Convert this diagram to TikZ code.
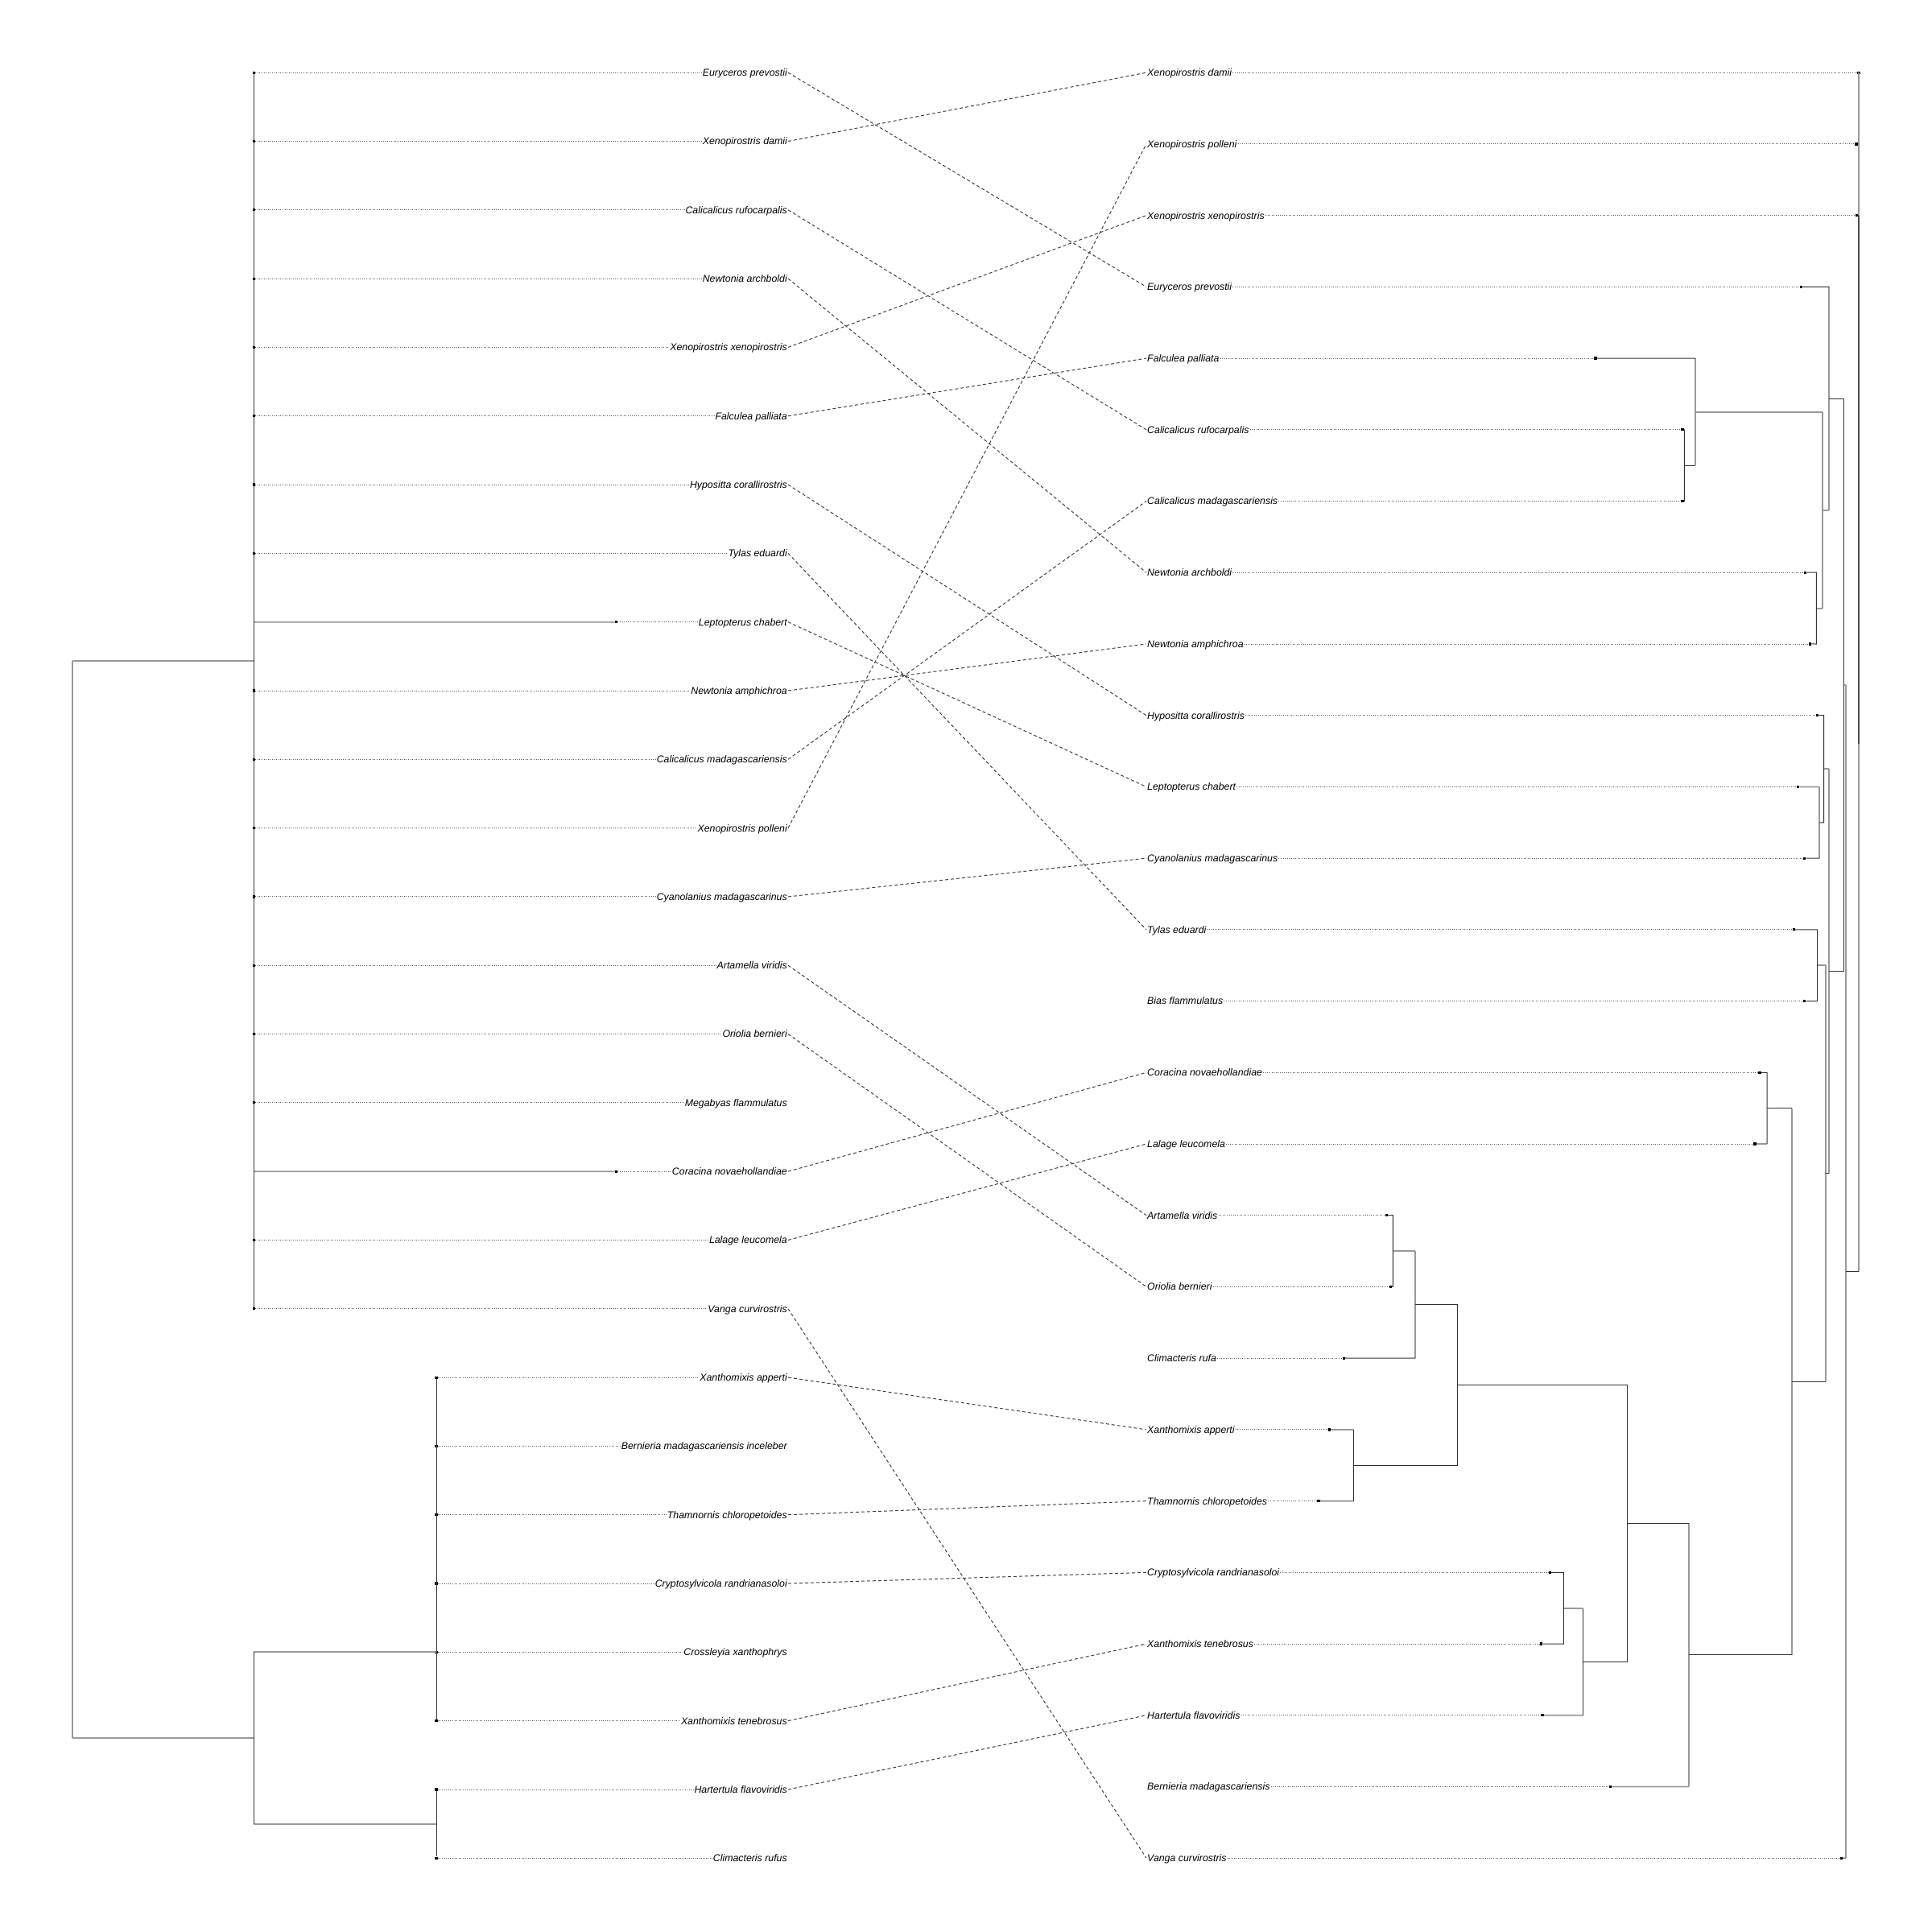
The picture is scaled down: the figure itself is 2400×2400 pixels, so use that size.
\documentclass[tikz,border=0pt]{standalone}
\usepackage{fontspec}
\setmainfont{Liberation Sans}
\begin{document}
\begin{tikzpicture}[x=1pt,y=-1pt,
  blk/.style={draw=black!80, line width=1pt},
  gry/.style={draw=black!40, line width=1.8pt},
  dk/.style={draw=black!70, line width=2.2pt},
  lead/.style={draw=black!65, line width=0.9pt, dash pattern=on 1pt off 1.6pt},
  conn/.style={draw=black!75, line width=1pt, dash pattern=on 4pt off 3pt},
  lab/.style={inner sep=1pt, font=\fontsize{12.35}{14}\selectfont\itshape, text height=8.8pt, text depth=0pt},
  tipdot/.style={fill=black, inner sep=0pt, minimum size=3.2pt, rectangle}]
\useasboundingbox (0,0) rectangle (2400,2400);

% ---------------- left labels and tips ----------------
\foreach \k/\nm/\tx in {
 1/{Euryceros prevostii}/315.3,
 2/{Xenopirostris damii}/315.3,
 3/{Calicalicus rufocarpalis}/315.3,
 4/{Newtonia archboldi}/315.3,
 5/{Xenopirostris xenopirostris}/315.3,
 6/{Falculea palliata}/315.3,
 7/{Hypositta corallirostris}/315.3,
 8/{Tylas eduardi}/315.3,
 9/{Leptopterus chabert}/765.5,
 10/{Newtonia amphichroa}/315.3,
 11/{Calicalicus madagascariensis}/315.3,
 12/{Xenopirostris polleni}/315.3,
 13/{Cyanolanius madagascarinus}/315.3,
 14/{Artamella viridis}/315.3,
 15/{Oriolia bernieri}/315.3,
 16/{Megabyas flammulatus}/315.3,
 17/{Coracina novaehollandiae}/765.5,
 18/{Lalage leucomela}/315.3,
 19/{Vanga curvirostris}/315.3,
 20/{Xanthomixis apperti}/542,
 21/{Bernieria madagascariensis inceleber}/542,
 22/{Thamnornis chloropetoides}/542,
 23/{Cryptosylvicola randrianasoloi}/542,
 24/{Crossleyia xanthophrys}/542,
 25/{Xanthomixis tenebrosus}/542,
 26/{Hartertula flavoviridis}/542,
 27/{Climacteris rufus}/542}{
  \node[lab, anchor=east] (L\k) at (979,{90.2+(\k-1)*85.31}) {\nm};
  \node[tipdot] (tL\k) at (\tx,{90.2+(\k-1)*85.31}) {};
  \draw[lead] (tL\k) -- (L\k.west);
}

% ---------------- right labels and tips ----------------
\foreach \k/\nm/\tx in {
 1/{Xenopirostris damii}/2309,
 2/{Xenopirostris polleni}/2306,
 3/{Xenopirostris xenopirostris}/2306.3,
 4/{Euryceros prevostii}/2237.7,
 5/{Falculea palliata}/1982,
 6/{Calicalicus rufocarpalis}/2090,
 7/{Calicalicus madagascariensis}/2090,
 8/{Newtonia archboldi}/2242.7,
 9/{Newtonia amphichroa}/2248.3,
 10/{Hypositta corallirostris}/2257.7,
 11/{Leptopterus chabert}/2233.7,
 12/{Cyanolanius madagascarinus}/2241.7,
 13/{Tylas eduardi}/2228.3,
 14/{Bias flammulatus}/2241.7,
 15/{Coracina novaehollandiae}/2186,
 16/{Lalage leucomela}/2180,
 17/{Artamella viridis}/1722.3,
 18/{Oriolia bernieri}/1727.3,
 19/{Climacteris rufa}/1669.3,
 20/{Xanthomixis apperti}/1651.3,
 21/{Thamnornis chloropetoides}/1638,
 22/{Cryptosylvicola randrianasoloi}/1925.3,
 23/{Xanthomixis tenebrosus}/1914.7,
 24/{Hartertula flavoviridis}/1916,
 25/{Bernieria madagascariensis}/2000.3,
 26/{Vanga curvirostris}/2287.3}{
  \node[lab, anchor=west] (R\k) at (1424,{90.2+(\k-1)*88.72}) {\nm};
  \node[tipdot] (tR\k) at (\tx,{90.2+(\k-1)*88.72}) {};
  \draw[lead] (R\k.east) -- (tR\k);
}

% ---------------- left tree ----------------
\draw[gry] (90,820.7) -- (90,2158.8);
\draw[gry] (90,820.7) -- (315.3,820.7);
\draw[gry] (90,2158.8) -- (315.3,2158.8);
\draw[gry] (315.3,772.7) -- (tL9);
\draw[gry] (315.3,1455.2) -- (tL17);
\draw[gry] (315.3,2052.3) -- (542,2052.3);
\draw[gry] (315.3,2265.6) -- (542,2265.6);
\draw[blk] (tL1) -- (tL19);
\draw[blk] (315.3,2052.3) -- (315.3,2265.6);
\draw[blk] (tL20) -- (tL25);
\draw[blk] (tL26) -- (tL27);

% ---------------- right tree: grey strokes ----------------
\draw[gry] (2309,90.2) -- (2309,1579.5);
\draw[gry] (2272.3,356.4) -- (2272.3,633.6);
\draw[gry] (2106,445.1) -- (2106,578.2);
\draw[gry] (2106,511.6) -- (2264,511.6);
\draw[gry] (2264,511.6) -- (2264,755.6);
\draw[gry] (2264,633.6) -- (2272.3,633.6);
\draw[gry] (2256.3,755.6) -- (2264,755.6);
\draw[gry] (2290.3,850.8) -- (2293,850.8);
\draw[gry] (2293,850.8) -- (2293,2308.2);
\draw[gry] (tR11) -- (2260.3,977.4);
\draw[gry] (2260.3,977.4) -- (2260.3,1066.1);
\draw[gry] (2265.7,955.2) -- (2272,955.2);
\draw[gry] (2272,955.2) -- (2272,1457.8);
\draw[gry] (2257.7,1199.2) -- (2268.3,1199.2);
\draw[gry] (2268.3,1199.2) -- (2268.3,1716.3);
\draw[gry] (tR16) -- (2195,1421);
\draw[gry] (2225.7,1376.7) -- (2225.7,2055.9);
\draw[gry] (1730.3,1554.1) -- (1758.3,1554.1);
\draw[gry] (1758.3,1554.1) -- (1758.3,1687.1);
\draw[gry] (tR20) -- (1681.3,1775.9);
\draw[gry] (tR21) -- (1681.3,1864.6);
\draw[gry] (1942.3,1997.7) -- (1966.3,1997.7);
\draw[gry] (tR24) -- (1966.3,2130.7);
\draw[gry] (2098,1892.3) -- (2098,2219.4);
\draw[gry] (tR25) -- (2098,2219.4);

% ---------------- right tree: black strokes ----------------
\draw[dk] (2309,267.6) -- (2309,923.6);
\draw[blk] (tR2) -- (2309,178.9);
\draw[blk] (tR3) -- (2309,267.6);
\draw[blk] (tR4) -- (2272.3,356.4);
\draw[blk] (2272.3,495) -- (2290.3,495) -- (2290.3,1206.5) -- (2272,1206.5);
\draw[blk] (2293,1579.5) -- (2309,1579.5);
\draw[blk] (tR26) -- (2293,2308.2);
\draw[blk] (tR5) -- (2106,445.1);
\draw[blk] (tR6) -- (2092.3,533.8) -- (2092.3,622.5) -- (tR7);
\draw[blk] (2092.3,578.2) -- (2106,578.2);
\draw[blk] (tR8) -- (2256.3,711.2) -- (2256.3,800) -- (tR9);
\draw[blk] (tR10) -- (2265.7,888.7) -- (2265.7,1021.8) -- (2260.3,1021.8);
\draw[blk] (tR12) -- (2260.3,1066.1);
\draw[blk] (tR13) -- (2257.7,1154.8) -- (2257.7,1243.6) -- (tR14);
\draw[blk] (2268.3,1457.8) -- (2272,1457.8);
\draw[blk] (tR15) -- (2195,1332.3) -- (2195,1421);
\draw[blk] (2195,1376.7) -- (2225.7,1376.7);
\draw[blk] (2225.7,1716.3) -- (2268.3,1716.3);
\draw[blk] (tR17) -- (1730.3,1509.7) -- (1730.3,1598.4) -- (tR18);
\draw[blk] (tR19) -- (1758.3,1687.1);
\draw[blk] (1758.3,1620.6) -- (1810.7,1620.6);
\draw[blk] (1681.3,1775.9) -- (1681.3,1864.6);
\draw[blk] (1681.3,1820.3) -- (1810.7,1820.3);
\draw[blk] (1810.7,1620.6) -- (1810.7,1820.3);
\draw[blk] (1810.7,1720.4) -- (2021.3,1720.4) -- (2021.3,2064.2) -- (1966.3,2064.2);
\draw[blk] (tR22) -- (1942.3,1953.3) -- (1942.3,2042) -- (tR23);
\draw[blk] (1966.3,1997.7) -- (1966.3,2130.7);
\draw[blk] (2021.3,1892.3) -- (2098,1892.3);
\draw[blk] (2098,2055.9) -- (2225.7,2055.9);

% ---------------- connectors ----------------
\foreach \a/\b in {1/4, 2/1, 3/6, 4/8, 5/3, 6/5, 7/10, 8/13, 9/11, 10/9, 11/7, 12/2, 13/12,
  14/17, 15/18, 17/15, 18/16, 19/26, 20/20, 22/21, 23/22, 25/23, 26/24}{
  \draw[conn] (L\a.east) -- (R\b.west);
}
\end{tikzpicture}
\end{document}
